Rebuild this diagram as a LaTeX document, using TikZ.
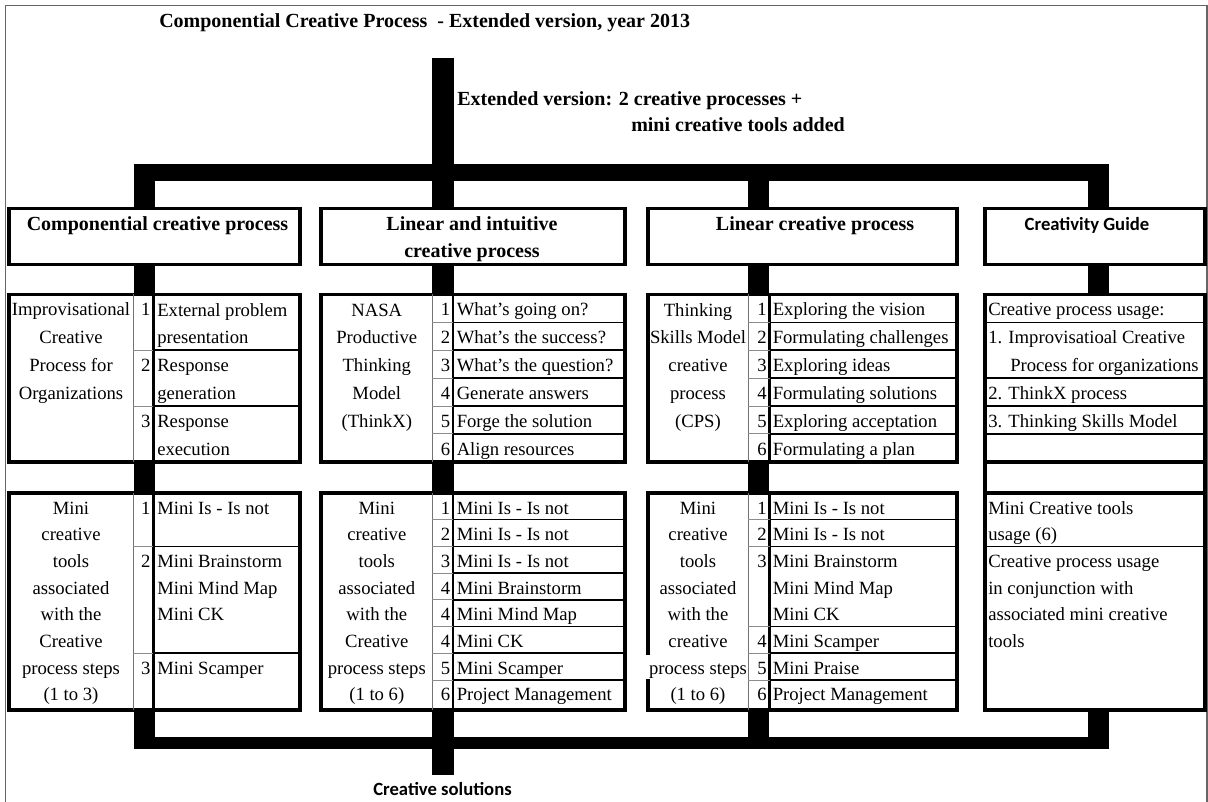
\documentclass[tikz,border=0pt]{standalone}
\usepackage{fontspec}
\setmainfont{Liberation Serif}
\newfontfamily\calibfont{Carlito}
\usetikzlibrary{fit}
\tikzset{
  frame/.style={draw, line width=2.8pt, inner sep=0pt},
  bar/.style={line width=16pt},
  hub/.style={line width=12.5pt},
  sole/.style={line width=9pt},
  colsep/.style={black!55, line width=0.6pt},
  numsep/.style={line width=2pt},
  rowsep/.style={line width=1.2pt},
  numrow/.style={black!45, line width=0.6pt},
  body/.style={inner sep=0pt, anchor=base west, align=left, font=\fontsize{14}{20.9}\selectfont},
  mini/.style={body, font=\fontsize{14}{20}\selectfont},
  lbl/.style={inner sep=0pt, anchor=base, align=center, font=\fontsize{14}{20.9}\selectfont},
  lblm/.style={lbl, font=\fontsize{14}{20}\selectfont},
  num/.style={inner sep=0pt, anchor=base east, font=\fontsize{14}{20}\selectfont},
  hdr/.style={inner sep=0pt, anchor=base, align=center, font=\fontsize{15}{20.6}\selectfont\bfseries},
}
\begin{document}
\begin{tikzpicture}[x=0.75pt, y=-0.75pt]
   \useasboundingbox (0,0) rectangle (1208,802);
   % outer frame, open at the bottom
   \draw[black!60, line width=1pt] (5.5,802) -- (5.5,5.5) -- (1207,5.5) -- (1207,802);

   \node[hdr, anchor=base west] (title) at (159,28) {Componential Creative Process\ \ - Extended version, year 2013};
   \node[hdr, anchor=base west] (ext1) at (457,105.5) {Extended version: 2 creative processes +};
   \node[hdr, anchor=base west] (ext2) at (631,131.7) {mini creative tools added};

   % header boxes
   \node[frame, fit={(8.8,208.5) (299.7,264.5)}] (h1) {};
   \node[frame, fit={(321.3,208.5) (625.3,264.5)}] (h2) {};
   \node[frame, fit={(647.8,208.5) (957.2,264.5)}] (h3) {};
   \node[frame, fit={(985.3,208.5) (1205,264.5)}] (h4) {};
   % multi-line texts sit on the baseline of their last line
   \node[hdr] (h1t) at (157.5,230.5) {Componential creative process};
   \node[hdr] (h2t) at (472,258) {Linear and intuitive\\creative process};
   \node[hdr] (h3t) at (815,230.5) {Linear creative process};
   \node[hdr, font=\calibfont\fontsize{14}{17}\selectfont\bfseries] (h4t) at (1087,230.5) {Creativity Guide};

   % process tables
   \node[frame, fit={(8.8,294.5) (299.7,461.7)}] (b1) {};
   \node[frame, fit={(321.3,294.5) (625.3,461.7)}] (b2) {};
   \node[frame, fit={(647.8,294.5) (957.2,461.7)}] (b3) {};
   % creativity guide, both parts
   \node[frame, fit={(985.3,294.5) (1205,709.7)}] (g4) {};
   \draw[line width=2.8pt] (g4.west |- 0,461.7) -- (g4.east |- 0,461.7);
   \draw[line width=2.8pt] (g4.west |- 0,493) -- (g4.east |- 0,493);
   % mini tool tables
   \node[frame, fit={(8.8,493) (299.7,709.7)}] (m1) {};
   \node[frame, fit={(321.3,493) (625.3,709.7)}] (m2) {};
   \node[frame, fit={(647.8,493) (957.2,709.7)}] (m3) {};

   % bars
   \coordinate (top) at (443,58);
   \coordinate (hl) at (133.5,172.7);
   \coordinate (hr) at (1109,172.7);
   \coordinate (c1) at (144.2,172.7);
   \coordinate (c2) at (443,172.7);
   \coordinate (c3) at (758.8,172.7);
   \coordinate (c4) at (1098.3,172.7);
   \coordinate (bl) at (133.5,743);
   \coordinate (br) at (1109,743);
   \coordinate (sink) at (443,775);

   \draw[bar] (top) -- (top |- h2.north);
   \draw[hub] (hl) -- (hr);
   \draw[bar] (c1) -- (c1 |- h1.north);
   \draw[bar] (c3) -- (c3 |- h3.north);
   \draw[bar] (c4) -- (c4 |- h4.north);

   \draw[bar] (h1.south -| c1) -- (b1.north -| c1);
   \draw[bar] (h2.south -| c2) -- (b2.north -| c2);
   \draw[bar] (h3.south -| c3) -- (b3.north -| c3);
   \draw[bar] (h4.south -| c4) -- (g4.north -| c4);

   \draw[bar] (b1.south -| c1) -- (m1.north -| c1);
   \draw[bar] (b2.south -| c2) -- (m2.north -| c2);
   \draw[bar] (b3.south -| c3) -- (m3.north -| c3);

   \draw[bar] (m1.south -| c1) -- (c1 |- bl);
   \draw[bar] (m2.south -| c2) -- (sink);
   \draw[bar] (m3.south -| c3) -- (c3 |- bl);
   \draw[bar] (g4.south -| c4) -- (c4 |- bl);
   \draw[sole] (bl) -- (br);

   \node[inner sep=0pt, anchor=base, font=\calibfont\fontsize{14}{17}\selectfont\bfseries] (out) at (442.5,795) {Creative solutions};

   % --- componential creative process
   \draw[colsep] (133.3,294.5) -- (133.3,461.7);
   \draw[numsep] (153.3,294.5) -- (153.3,461.7);
   \foreach \y in {350.2,406.0} {
     \draw[numrow] (133.3,\y) -- (153.3,\y);
     \draw[rowsep] (153.3,\y) -- (299.7,\y);
   }
   \node[lbl] (b1l) at (71,399.6) {Improvisational\\Creative\\Process for\\Organizations};
   \node[num] (b1n1) at (150.8,316) {1};
   \node[num] (b1n2) at (150.8,371.7) {2};
   \node[num] (b1n3) at (150.8,427.5) {3};
   \node[body] (b1s1) at (157,343.9) {External problem\\presentation};
   \node[body] (b1s2) at (157,399.6) {Response\\generation};
   \node[body] (b1s3) at (157,455.4) {Response\\execution};

   \draw[colsep] (133.3,493) -- (133.3,709.7);
   \draw[numsep] (153.3,493) -- (153.3,709.7);
   \foreach \y in {546.4,653.2} {
     \draw[numrow] (133.3,\y) -- (153.3,\y);
     \draw[rowsep] (153.3,\y) -- (299.7,\y);
   }
   \node[lblm] (m1l) at (71,700.9) {Mini\\creative\\tools\\associated\\with the\\Creative\\process steps\\(1 to 3)};
   \node[num] (m1n1) at (150.8,514) {1};
   \node[num] (m1n2) at (150.8,567.4) {2};
   \node[num] (m1n3) at (150.8,674.2) {3};
   \node[mini] (m1s1) at (157,514) {Mini Is - Is not};
   \node[mini] (m1s2) at (157,620.8) {Mini Brainstorm\\Mini Mind Map\\Mini CK};
   \node[mini] (m1s3) at (157,674.2) {Mini Scamper};

   % --- linear and intuitive creative process
   \draw[colsep] (432.3,294.5) -- (432.3,461.7);
   \draw[numsep] (453,294.5) -- (453,461.7);
   \foreach \y in {322.4,350.2,378.1,406.0,433.9} {
     \draw[numrow] (432.3,\y) -- (453,\y);
     \draw[rowsep] (453,\y) -- (625.3,\y);
   }
   \node[lbl] (b2l) at (376.8,427.5) {NASA\\Productive\\Thinking\\Model\\(ThinkX)};
   \foreach \t [count=\r] in {What’s going on?, What’s the success?, What’s the question?,
       Generate answers, Forge the solution, Align resources} {
     \node[num] (b2n\r) at (450.5,{316+27.87*(\r-1)}) {\r};
     \node[body] (b2s\r) at (456.5,{316+27.87*(\r-1)}) {\t};
   }

   \draw[colsep] (432.3,493) -- (432.3,709.7);
   \draw[numsep] (453,493) -- (453,709.7);
   \foreach \y in {519.7,546.4,573.1,599.8,626.5,653.2,679.9} {
     \draw[numrow] (432.3,\y) -- (453,\y);
     \draw[rowsep] (453,\y) -- (625.3,\y);
   }
   \node[lblm] (m2l) at (376.8,700.9) {Mini\\creative\\tools\\associated\\with the\\Creative\\process steps\\(1 to 6)};
   \foreach \k/\t [count=\r] in {1/Mini Is - Is not, 2/Mini Is - Is not, 3/Mini Is - Is not,
       4/Mini Brainstorm, 4/Mini Mind Map, 4/Mini CK, 5/Mini Scamper, 6/Project Management} {
     \node[num] (m2n\r) at (450.5,{514+26.7*(\r-1)}) {\k};
     \node[mini] (m2s\r) at (456.5,{514+26.7*(\r-1)}) {\t};
   }

   % --- linear creative process
   \draw[colsep] (748.3,294.5) -- (748.3,461.7);
   \draw[numsep] (769.5,294.5) -- (769.5,461.7);
   \foreach \y in {322.4,350.2,378.1,406.0,433.9} {
     \draw[numrow] (748.3,\y) -- (769.5,\y);
     \draw[rowsep] (769.5,\y) -- (957.2,\y);
   }
   \node[lbl] (b3l) at (698,427.5) {Thinking\\Skills Model\\creative\\process\\(CPS)};
   \foreach \t [count=\r] in {Exploring the vision, Formulating challenges, Exploring ideas,
       Formulating solutions, Exploring acceptation, Formulating a plan} {
     \node[num] (b3n\r) at (767,{316+27.87*(\r-1)}) {\r};
     \node[body] (b3s\r) at (772.5,{316+27.87*(\r-1)}) {\t};
   }

   \draw[colsep] (748.3,493) -- (748.3,709.7);
   \draw[numsep] (769.5,493) -- (769.5,709.7);
   \foreach \y in {519.7,546.4,626.5,653.2,679.9} {
     \draw[numrow] (748.3,\y) -- (769.5,\y);
     \draw[rowsep] (769.5,\y) -- (957.2,\y);
   }
   % the label runs over the left border here
   \fill[white] (645.4,655) rectangle (650.2,678.5);
   \node[lblm] (m3l) at (698,700.9) {Mini\\creative\\tools\\associated\\with the\\creative\\process steps\\(1 to 6)};
   \foreach \k/\r in {1/1, 2/2, 3/3, 4/6, 5/7, 6/8}
     \node[num] (m3n\k) at (767,{514+26.7*(\r-1)}) {\k};
   \foreach \t [count=\r] in {Mini Is - Is not, Mini Is - Is not, Mini Brainstorm, Mini Mind Map,
       Mini CK, Mini Scamper, Mini Praise, Project Management}
     \node[mini] (m3s\r) at (772.5,{514+26.7*(\r-1)}) {\t};

   % --- creativity guide
   \foreach \y in {322.4,378.1,406.0,433.9}
     \draw[rowsep] (985.3,\y) -- (1205,\y);
   \draw[rowsep] (985.3,546.4) -- (1205,546.4);
   \node[body] (g4a) at (988,316) {Creative process usage:};
   \node[body] (g4b) at (988,343.9) {1. Improvisatioal Creative};
   \node[body] (g4c) at (1010,371.7) {Process for organizations};
   \node[body] (g4d) at (988,399.6) {2. ThinkX process};
   \node[body] (g4e) at (988,427.5) {3. Thinking Skills Model};
   \node[mini] (g4f) at (988,540.7) {Mini Creative tools\\usage (6)};
   \node[mini] (g4g) at (988,647.5) {Creative process usage\\in conjunction with\\associated mini creative\\tools};
\end{tikzpicture}
\end{document}
